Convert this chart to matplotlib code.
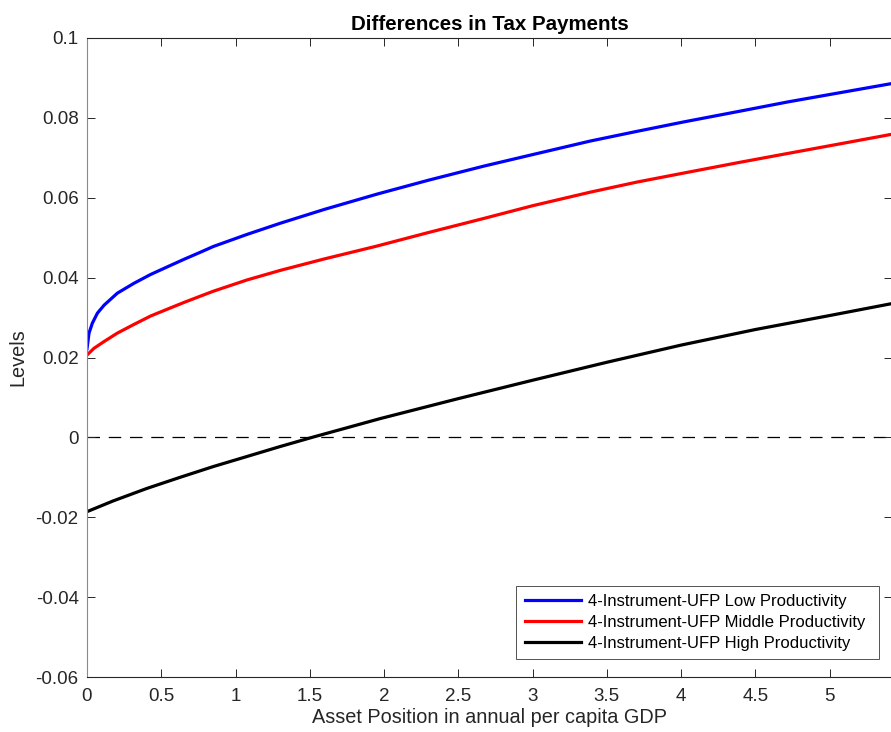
import matplotlib
matplotlib.use("Agg")
import matplotlib.pyplot as plt

plt.rcParams['font.family'] = ['Liberation Sans', 'DejaVu Sans']

# Data
x_low = [0.0, 0.0135, 0.036, 0.07, 0.115, 0.204, 0.317, 0.429, 0.541, 0.654, 0.766, 0.851,
         1.076, 1.30, 1.6, 1.952, 2.3, 2.67, 3.0, 3.389, 3.7, 4.02, 4.4, 4.72, 5.1, 5.42]
y_low = [0.0222, 0.0261, 0.0286, 0.0311, 0.0331, 0.0361, 0.0386, 0.0408, 0.0427, 0.0446, 0.0464, 0.0478,
         0.0508, 0.0536, 0.0571, 0.0609, 0.0644, 0.0679, 0.0708, 0.0742, 0.0766, 0.0790, 0.0817, 0.0840, 0.0865, 0.0886]

x_mid = [0.0, 0.047, 0.115, 0.204, 0.317, 0.429, 0.541, 0.654, 0.766, 0.851, 1.076, 1.30, 1.6,
         1.952, 2.3, 2.67, 3.0, 3.389, 3.7, 4.02, 4.4, 4.72, 5.1, 5.42]
y_mid = [0.0206, 0.0223, 0.0240, 0.0261, 0.0283, 0.0304, 0.0321, 0.0338, 0.0354, 0.0366, 0.0394, 0.0418, 0.0447,
         0.0479, 0.0513, 0.0548, 0.0580, 0.0614, 0.0639, 0.0662, 0.0689, 0.0711, 0.0737, 0.0759]

x_high = [0.0, 0.177, 0.402, 0.627, 0.851, 1.076, 1.30, 1.525, 1.75, 1.974, 2.5, 3.0, 3.5, 4.0, 4.5, 5.0, 5.42]
y_high = [-0.0186, -0.0159, -0.0128, -0.0100, -0.0073, -0.0048, -0.0023, 0.0001, 0.0024, 0.0047,
          0.0097, 0.0143, 0.0188, 0.0231, 0.0270, 0.0305, 0.0335]

labels = ['4-Instrument-UFP Low Productivity',
          '4-Instrument-UFP Middle Productivity',
          '4-Instrument-UFP High Productivity']
xticks = [0, 0.5, 1, 1.5, 2, 2.5, 3, 3.5, 4, 4.5, 5]
xtick_labels = ['0', '0.5', '1', '1.5', '2', '2.5', '3', '3.5', '4', '4.5', '5']
yticks = [-0.06, -0.04, -0.02, 0, 0.02, 0.04, 0.06, 0.08, 0.1]
ytick_labels = ['-0.06', '-0.04', '-0.02', '0', '0.02', '0.04', '0.06', '0.08', '0.1']

fig = plt.figure(figsize=(8.91, 7.32), dpi=100)
ax = fig.add_axes([87/891, 1 - 677/732, (891 - 87)/891 + 0.001, (677 - 38)/732])

axc = '#262626'
ax.axhline(0, color='black', lw=0.9, dashes=(10, 7), zorder=1)
ax.plot(x_low, y_low, color='#0000ff', lw=2.3, label=labels[0])
ax.plot(x_mid, y_mid, color='#ff0000', lw=2.3, label=labels[1])
ax.plot(x_high, y_high, color='black', lw=2.3, label=labels[2])

ax.set_xlim(0, 5.42)
ax.set_ylim(-0.06, 0.1)
ax.set_xticks(xticks)
ax.set_xticklabels(xtick_labels)
ax.set_yticks(yticks)
ax.set_yticklabels(ytick_labels)
ax.tick_params(direction='in', length=6, width=0.7, colors=axc, labelsize=13.5,
               top=True, right=True, labelcolor=axc)
ax.tick_params(axis='y', pad=6)
ax.tick_params(axis='x', pad=8)
for s in ax.spines.values():
    s.set_color(axc)
    s.set_linewidth(0.8)
ax.spines['left'].set_color('#8a8a8a')

ax.set_title('Differences in Tax Payments', fontsize=14.8, fontweight='bold', pad=6)
ax.set_xlabel('Asset Position in annual per capita GDP', fontsize=14.3, color=axc, labelpad=2)
ax.set_ylabel('Levels', fontsize=14.3, color=axc, labelpad=6)

# legend box in axes coordinates (from reference pixel extent)
W = 891 - 87
H = 677 - 38
lx0 = (516 - 87) / W
lx1 = (878 - 87) / W
ly0 = (677 - 659) / H
ly1 = (677 - 588) / H
leg = ax.legend(loc='lower left', bbox_to_anchor=(lx0, ly0, lx1 - lx0, ly1 - ly0),
                bbox_transform=ax.transAxes, mode='expand',
                fontsize=12, frameon=True, fancybox=False, handlelength=3.4,
                borderpad=0.5, labelspacing=0.35, handletextpad=0.4, borderaxespad=0)
leg.get_frame().set_edgecolor(axc)
leg.get_frame().set_linewidth(0.7)

fig.savefig('out.png', dpi=100)
